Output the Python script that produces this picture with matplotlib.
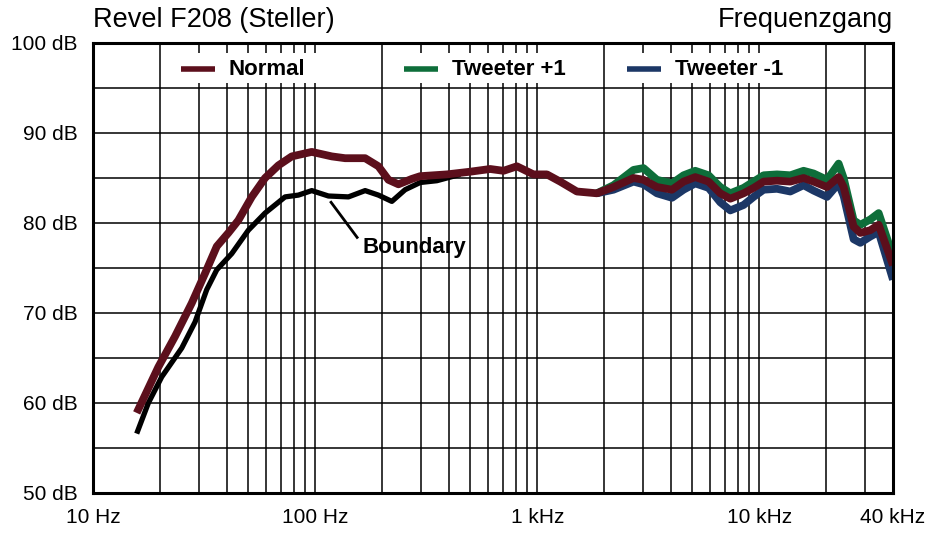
import matplotlib
matplotlib.use("Agg")
import matplotlib.pyplot as plt
import matplotlib.ticker as mticker

plt.rcParams['font.family'] = ['Liberation Sans', 'DejaVu Sans']

# ---- data ----
normal_f = [15.73, 19.69, 23.41, 27.84, 31.95, 36.08, 40.69, 45.13, 51.86, 59.52, 68.34, 78.52,
            96.6, 118.9, 136.5, 168.0, 192.8, 213.9, 237.3, 272.7, 297.2, 392, 499.2, 614.2,
            705.2, 810.2, 962.3, 1106, 1269, 1509, 1857, 2207, 2715, 3011, 3461, 4045, 4560,
            5149, 5911, 6673, 7403, 8498, 9426, 10457, 12014, 13791, 15829, 17562, 20184,
            22763, 23975, 26591, 28510, 31623, 34470, 40000]
normal_db = [58.9, 64.0, 67.4, 71.1, 74.4, 77.4, 78.9, 80.3, 82.9, 85.0, 86.4, 87.4,
             87.9, 87.4, 87.2, 87.2, 86.3, 84.8, 84.3, 84.9, 85.2, 85.4, 85.7, 86.0,
             85.8, 86.3, 85.4, 85.4, 84.6, 83.5, 83.3, 84.0, 85.0, 84.8, 84.0, 83.7, 84.6,
             85.1, 84.6, 83.3, 82.7, 83.3, 83.9, 84.6, 84.7, 84.6, 85.0, 84.6, 84.0,
             85.1, 84.0, 79.6, 78.9, 79.2, 79.8, 75.3]

tw_f = [1857, 2207, 2715, 3011, 3461, 4045, 4560, 5149, 5911, 6673, 7403, 8498, 9426, 10457,
        12014, 13791, 15829, 17562, 20184, 22763, 23975, 26591, 28510, 31623, 34470, 40000]
tw_plus_db = [83.3, 84.2, 85.9, 86.1, 84.8, 84.4, 85.3, 85.8, 85.3, 84.0, 83.3, 83.9, 84.6, 85.3,
              85.4, 85.3, 85.8, 85.5, 84.8, 86.6, 85.0, 80.3, 79.8, 80.4, 81.1, 76.3]
tw_minus_db = [83.3, 83.7, 84.6, 84.3, 83.3, 82.8, 83.7, 84.4, 83.9, 82.3, 81.4, 82.0, 82.9, 83.7,
               83.8, 83.5, 84.2, 83.6, 82.9, 84.4, 83.0, 78.2, 77.8, 78.5, 79.0, 73.7]

boundary_f = [15.73, 17.75, 20.39, 25.09, 28.81, 32.52, 36.08, 42.15, 50.06, 59.52, 73.24, 84.10,
              96.6, 114.8, 141.3, 168.0, 192.8, 221.6, 254.3, 297.2, 353.4, 450.1]
boundary_db = [56.6, 60.0, 62.9, 66.1, 69.0, 72.6, 74.8, 76.6, 79.2, 81.1, 82.9, 83.1,
               83.6, 83.0, 82.9, 83.6, 83.1, 82.4, 83.7, 84.5, 84.7, 85.4]

x_ticks = [10, 100, 1000, 10000, 40000]
x_labels = ["10 Hz", "100 Hz", "1 kHz", "10 kHz", "40 kHz"]
y_ticks = [50, 60, 70, 80, 90, 100]
y_labels = ["50 dB", "60 dB", "70 dB", "80 dB", "90 dB", "100 dB"]

legend_names = ["Normal", "Tweeter +1", "Tweeter -1"]
c_normal = '#5c0f1c'
c_plus = '#0e6e3a'
c_minus = '#1c3766'

# ---- figure ----
W, H = 943, 533
fig = plt.figure(figsize=(W / 100, H / 100), dpi=100)
ax = fig.add_axes([93 / W, 40 / H, 800 / W, 450 / H])
ax.set_xscale('log')
ax.set_xlim(10, 40000)
ax.set_ylim(50, 100)

gl = dict(color='black', lw=1.1, zorder=1)
for y in range(55, 100, 5):
    ax.axhline(y, **gl)
for d in range(1, 5):
    for m in range(1, 10):
        f = m * 10 ** d
        if f <= 10 or f >= 40000:
            continue
        ax.vlines(f, 50, 95, **gl)
        if m == 2 or f == 30000:
            ax.vlines(f, 95, 100, **gl)
        else:
            ax.vlines(f, 98.9, 100, **gl)
            ax.vlines(f, 95, 95.6, **gl)

kw = dict(solid_capstyle='butt', solid_joinstyle='round')
ax.plot(boundary_f, boundary_db, color='black', lw=3.8, zorder=3, **kw)
ax.plot(tw_f, tw_plus_db, color=c_plus, lw=5.6, zorder=4, **kw)
ax.plot(tw_f, tw_minus_db, color=c_minus, lw=5.6, zorder=4, **kw)
ax.plot(normal_f, normal_db, color=c_normal, lw=5.6, zorder=5, **kw)

# annotation
ax.plot([118.0, 154.6], [82.3, 78.4], color='black', lw=2.0, zorder=6)
ax.text(163, 76.7, "Boundary", fontsize=16, fontweight='bold', va='baseline', ha='left', zorder=6)

# legend (manual)
trans = ax.transAxes
line_y = (493 - 69) / 450
text_y = (493 - 75) / 450
for (x0, name, col) in [(181, legend_names[0], c_normal), (404, legend_names[1], c_plus),
                        (627, legend_names[2], c_minus)]:
    ax.plot([(x0 - 93) / 800, (x0 + 34 - 93) / 800], [line_y, line_y], transform=trans,
            color=col, lw=4, zorder=6, solid_capstyle='butt')
    ax.text((x0 + 48 - 93) / 800, text_y, name, transform=trans, fontsize=16,
            fontweight='bold', va='baseline', ha='left', zorder=6)

ax.set_xticks(x_ticks)
ax.set_xticklabels(x_labels, fontsize=15)
ax.xaxis.set_minor_locator(mticker.NullLocator())
ax.set_yticks(y_ticks)
ax.set_yticklabels(y_labels, fontsize=15)
ax.tick_params(axis='y', length=0, pad=11)
ax.tick_params(axis='x', length=0, pad=11)
for s in ax.spines.values():
    s.set_linewidth(2.2)
    s.set_zorder(10)

fig.text(93 / W, 1 - 27 / H, "Revel F208 (Steller)", fontsize=19.5, ha='left', va='baseline')
fig.text(893 / W, 1 - 27 / H, "Frequenzgang", fontsize=19.5, ha='right', va='baseline')

fig.savefig("out.png", dpi=100)
